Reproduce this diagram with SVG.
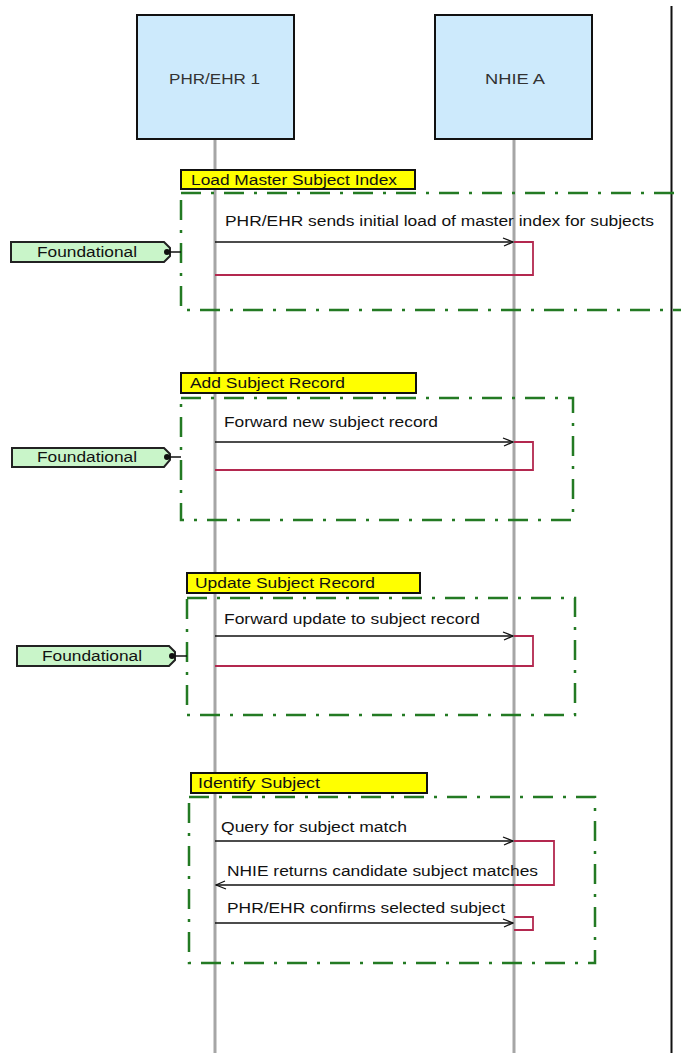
<svg xmlns="http://www.w3.org/2000/svg" width="681" height="1053" viewBox="0 0 681 1053">
  <style>
    .lbl { font-family: "Liberation Sans", Arial, sans-serif; font-size: 14px; fill: #111; }
    .head { font-family: "Liberation Sans", Arial, sans-serif; font-size: 14px; fill: #333; }
    .actor { fill: #cdeafc; stroke: #111; stroke-width: 2; }
    .life { stroke: #a6a6a6; stroke-width: 3; fill: none; }
    .frame { fill: none; stroke: #237a23; stroke-width: 2.5; stroke-dasharray: 20 10 3 10; }
    .tag { fill: #ffff00; stroke: #111; stroke-width: 2; }
    .found { fill: #c9f5c9; stroke: #222; stroke-width: 2; }
    .msg { stroke: #111; stroke-width: 1.5; fill: none; }
    .act { stroke: #b3284f; stroke-width: 1.8; fill: none; }
    .open { stroke: #111; stroke-width: 1.3; fill: none; }
  </style>
  <defs>
    <marker id="arr" markerWidth="12" markerHeight="10" refX="11" refY="5" orient="auto" markerUnits="userSpaceOnUse">
      <path class="open" d="M1,1 L11,5 L2,9"/>
    </marker>
  </defs>

  <rect width="681" height="1053" fill="#fff"/>

  <!-- right border line -->
  <line x1="671.5" y1="6" x2="671.5" y2="1053" stroke="#111" stroke-width="2"/>

  <!-- lifelines -->
  <g id="lifelines">
    <line class="life" x1="215" y1="139" x2="215" y2="1053"/>
    <line class="life" x1="514" y1="139" x2="514" y2="1053"/>
  </g>

  <g id="actor-phr">
    <rect class="actor" x="137" y="15" width="157" height="124"/>
    <text class="head" x="169" y="84" textLength="91" lengthAdjust="spacingAndGlyphs">PHR/EHR 1</text>
  </g>
  <g id="actor-nhie">
    <rect class="actor" x="435" y="15" width="157" height="124"/>
    <text class="head" x="485" y="84" textLength="60" lengthAdjust="spacingAndGlyphs">NHIE A</text>
  </g>

  <!-- fragment 1 -->
  <g id="frag-load">
    <rect class="frame" x="181" y="193" width="520" height="117"/>
    <rect class="tag" x="181" y="170" width="234" height="19"/>
    <text class="lbl" x="191" y="185" textLength="206" lengthAdjust="spacingAndGlyphs">Load Master Subject Index</text>
  </g>
  <g id="found-1">
    <path class="found" d="M11,242 H164 L170,248 V256 L164,262 H11 Z"/>
    <text class="lbl" x="37" y="257" textLength="100" lengthAdjust="spacingAndGlyphs">Foundational</text>
  </g>

  <!-- fragment 2 -->
  <g id="frag-add">
    <rect class="frame" x="181" y="398" width="392" height="122"/>
    <rect class="tag" x="181" y="373" width="235" height="20"/>
    <text class="lbl" x="190" y="388" textLength="155" lengthAdjust="spacingAndGlyphs">Add Subject Record</text>
  </g>
  <g id="found-2">
    <path class="found" d="M12,448 H164 L170,454 V460 L164,467 H12 Z"/>
    <text class="lbl" x="37" y="462" textLength="100" lengthAdjust="spacingAndGlyphs">Foundational</text>
  </g>

  <!-- fragment 3 -->
  <g id="frag-update">
    <rect class="frame" x="187" y="598" width="388" height="117"/>
    <rect class="tag" x="187" y="573" width="233" height="20"/>
    <text class="lbl" x="195" y="588" textLength="180" lengthAdjust="spacingAndGlyphs">Update Subject Record</text>
  </g>
  <g id="found-3">
    <path class="found" d="M17,646 H169 L175,652 V660 L169,666 H17 Z"/>
    <text class="lbl" x="42" y="661" textLength="100" lengthAdjust="spacingAndGlyphs">Foundational</text>
  </g>

  <!-- fragment 4 -->
  <g id="frag-identify">
    <rect class="frame" x="189" y="797" width="406" height="166"/>
    <rect class="tag" x="191" y="773" width="236" height="20"/>
    <text class="lbl" x="198" y="788" textLength="122" lengthAdjust="spacingAndGlyphs">Identify Subject</text>
  </g>

  <!-- connectors -->
  <g id="connectors">
    <!-- category links into fragments -->
    <line x1="167" y1="252" x2="181" y2="252" stroke="#111" stroke-width="1.5"/>
    <circle cx="167" cy="252" r="3" fill="#111"/>
    <line x1="167" y1="457" x2="181" y2="457" stroke="#111" stroke-width="1.5"/>
    <circle cx="167" cy="457" r="3" fill="#111"/>
    <line x1="172" y1="656" x2="187" y2="656" stroke="#111" stroke-width="1.5"/>
    <circle cx="172" cy="656" r="3" fill="#111"/>

    <!-- load master index -->
    <line class="msg" x1="215" y1="242" x2="513" y2="242" marker-end="url(#arr)"/>
    <path class="act" d="M514,242 H533 V275 H215"/>
    <text class="lbl" x="225" y="226" textLength="429" lengthAdjust="spacingAndGlyphs">PHR/EHR sends initial load of master index for subjects</text>

    <!-- add subject record -->
    <line class="msg" x1="215" y1="442" x2="513" y2="442" marker-end="url(#arr)"/>
    <path class="act" d="M514,442 H533 V470 H215"/>
    <text class="lbl" x="224" y="427" textLength="214" lengthAdjust="spacingAndGlyphs">Forward new subject record</text>

    <!-- update subject record -->
    <line class="msg" x1="215" y1="636" x2="513" y2="636" marker-end="url(#arr)"/>
    <path class="act" d="M514,636 H533 V666 H215"/>
    <text class="lbl" x="224" y="624" textLength="256" lengthAdjust="spacingAndGlyphs">Forward update to subject record</text>

    <!-- identify subject -->
    <line class="msg" x1="215" y1="841" x2="513" y2="841" marker-end="url(#arr)"/>
    <text class="lbl" x="221" y="832" textLength="186" lengthAdjust="spacingAndGlyphs">Query for subject match</text>
    <path class="act" d="M514,841 H554 V885 H514"/>
    <line class="msg" x1="514" y1="885" x2="216" y2="885" marker-end="url(#arr)"/>
    <text class="lbl" x="227" y="876" textLength="311" lengthAdjust="spacingAndGlyphs">NHIE returns candidate subject matches</text>
    <line class="msg" x1="215" y1="923" x2="513" y2="923" marker-end="url(#arr)"/>
    <path class="act" d="M514,917 H533 V930 H514"/>
    <text class="lbl" x="227" y="913" textLength="278" lengthAdjust="spacingAndGlyphs">PHR/EHR confirms selected subject</text>
  </g>
</svg>
